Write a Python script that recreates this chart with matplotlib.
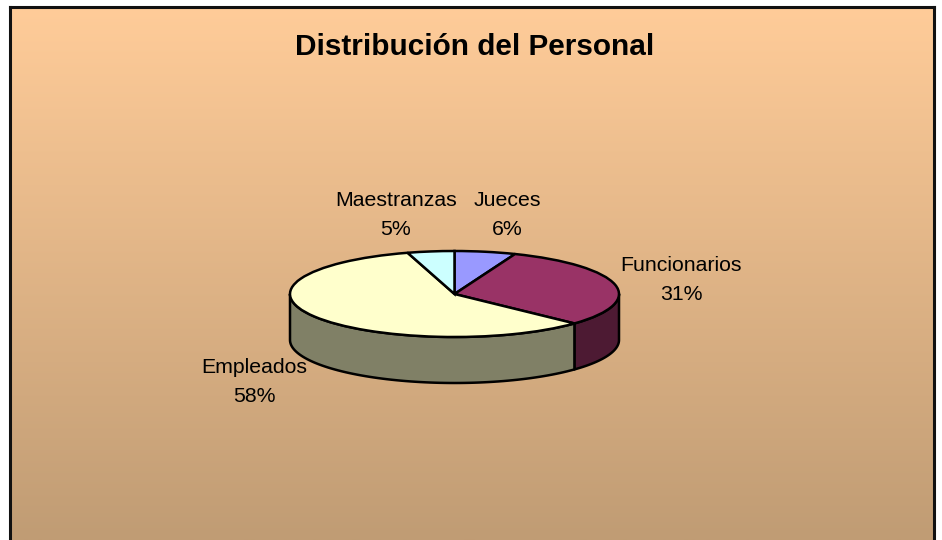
import numpy as np
import matplotlib
matplotlib.use("Agg")
import matplotlib.pyplot as plt

plt.rcParams['font.family'] = ['Liberation Sans', 'DejaVu Sans']

title = 'Distribución del Personal'
categories = ['Jueces', 'Funcionarios', 'Empleados', 'Maestranzas']
values = [6, 31, 58.4, 4.6]  # labels round them
top_colors = ['#9999FF', '#993366', '#FFFFCC', '#CCFFFF']
side_colors = ['#4D4D80', '#4D1A33', '#808066', '#668080']

W, H = 942, 540
cx, cy = 454.5, 294      # pie centre, pixels
rx, ry = 164.5, 43
depth = 46 / ry

fig = plt.figure(figsize=(W / 100, H / 100), dpi=100, facecolor='white')

# background panel with the vertical gradient
left, right, top = 10, 934, 7
bg = fig.add_axes([left / W, 0, (right - left) / W, 1 - top / H])
grad = np.linspace(0, 1, 256)[:, None, None]
c0 = np.array([255, 204, 153]) / 255
c1 = np.array([192, 156, 116]) / 255
bg.imshow(c0 + (c1 - c0) * grad, aspect='auto', extent=(0, 1, 0, 1))
bg.set_xticks([])
bg.set_yticks([])
bg.spines['bottom'].set_visible(False)
for s in ['left', 'right', 'top']:
    bg.spines[s].set_linewidth(2.2)
    bg.spines[s].set_color('#111111')

# unit-circle axes, squashed to get the tilted pie
ax = fig.add_axes([0, 0, 1, 1])
ax.patch.set_alpha(0)
ax.axis('off')

# side wall first
fracs = np.array(values) / sum(values)
edges = np.concatenate([[0], np.cumsum(fracs)])
for i in range(len(values)):
    a0 = max(edges[i], 0.25)
    a1 = min(edges[i + 1], 0.75)
    if a1 <= a0:
        continue
    t = np.linspace(a0, a1, 80) * 2 * np.pi
    xs = np.sin(t)
    ys = np.cos(t)
    ax.fill(np.concatenate([xs, xs[::-1]]),
            np.concatenate([ys, ys[::-1] - depth]),
            facecolor=side_colors[i], edgecolor='black', linewidth=1.8, joinstyle='round')

ax.pie(values, colors=top_colors, startangle=90, counterclock=False, radius=1,
       wedgeprops={'edgecolor': 'black', 'linewidth': 1.8})

ax.set_aspect('auto')
ax.set_xlim((0 - cx) / rx, (W - cx) / rx)
ax.set_ylim((cy - H) / ry, cy / ry)

fig.text(474.5 / W, 1 - 47 / H, title, ha='center', va='center',
         fontsize=21.4, fontweight='bold', color='black')

# labels, centre of each two-line block in pixels
label_xy = [(507, 215), (681, 280), (254, 382), (396, 215)]
for name, v, (px, py) in zip(categories, values, label_xy):
    fig.text(px / W, 1 - py / H, f'{name}\n{v:.0f}%', ha='center', va='center',
             fontsize=15.3, linespacing=1.68, color='black')

fig.savefig('out.png', dpi=100)
